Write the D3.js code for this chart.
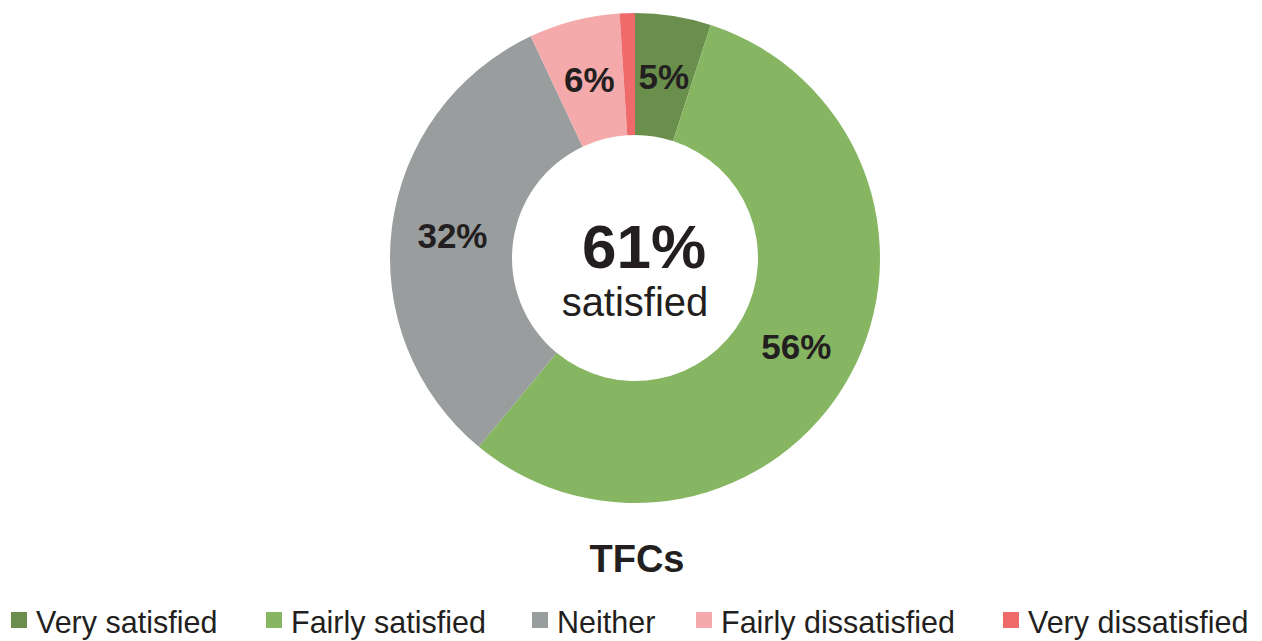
<!DOCTYPE html>
<html>
<head>
<meta charset="utf-8">
<script src="https://cdn.jsdelivr.net/npm/d3@7"></script>
<style>
  body { margin: 0; background: #fff; }
  text { font-family: "Liberation Sans", Arial, Helvetica, sans-serif; fill: #231f20; }
</style>
</head>
<body>
<div id="chart"></div>
<script>
const categories = ["Very satisfied", "Fairly satisfied", "Neither", "Fairly dissatisfied", "Very dissatisfied"];
const values = [5, 56, 32, 6, 1];
const colors = ["#6a8f4c", "#87b663", "#9a9d9d", "#f4aaab", "#ee6a6b"];
const showLabel = [true, true, true, true, false];
const centerValue = "61%";
const centerText = "satisfied";
const title = "TFCs";
const legendX = [11, 266, 532, 696, 1003];

const width = 1262, height = 641;
const cx = 635, cy = 258, outerR = 245, innerR = 123;

const svg = d3.select("#chart").append("svg")
  .attr("width", width)
  .attr("height", height);

const data = categories.map((c, i) => ({ name: c, value: values[i], color: colors[i], label: showLabel[i] }));

const pie = d3.pie().value(d => d.value).sort(null);
const arc = d3.arc().innerRadius(innerR).outerRadius(outerR);

const g = svg.append("g").attr("transform", `translate(${cx},${cy})`);

const arcs = pie(data);

g.selectAll("path")
  .data(arcs)
  .enter()
  .append("path")
  .attr("d", arc)
  .attr("fill", d => d.data.color);

g.selectAll("text.lbl")
  .data(arcs.filter(d => d.data.label))
  .enter()
  .append("text")
  .attr("class", "lbl")
  .attr("x", d => arc.centroid(d)[0])
  .attr("y", d => arc.centroid(d)[1])
  .attr("dy", "0.36em")
  .attr("text-anchor", "middle")
  .style("font-size", "35px")
  .style("font-weight", "bold")
  .text(d => d.data.value + "%");

// center text
g.append("text")
  .attr("x", 9).attr("y", 10)
  .attr("text-anchor", "middle")
  .style("font-size", "62px")
  .style("font-weight", "bold")
  .text(centerValue);

g.append("text")
  .attr("x", 0).attr("y", 58)
  .attr("text-anchor", "middle")
  .style("font-size", "40px")
  .text(centerText);

svg.append("text")
  .attr("x", cx + 2).attr("y", 572)
  .attr("text-anchor", "middle")
  .style("font-size", "38px")
  .style("font-weight", "bold")
  .text(title);

// legend
const legend = svg.selectAll("g.leg")
  .data(data)
  .enter()
  .append("g")
  .attr("class", "leg")
  .attr("transform", (d, i) => `translate(${legendX[i]},0)`);

legend.append("rect")
  .attr("x", 0).attr("y", 612)
  .attr("width", 16).attr("height", 16)
  .attr("fill", d => d.color);

legend.append("text")
  .attr("x", 25).attr("y", 633)
  .style("font-size", "30.5px")
  .text(d => d.name);
</script>
</body>
</html>
